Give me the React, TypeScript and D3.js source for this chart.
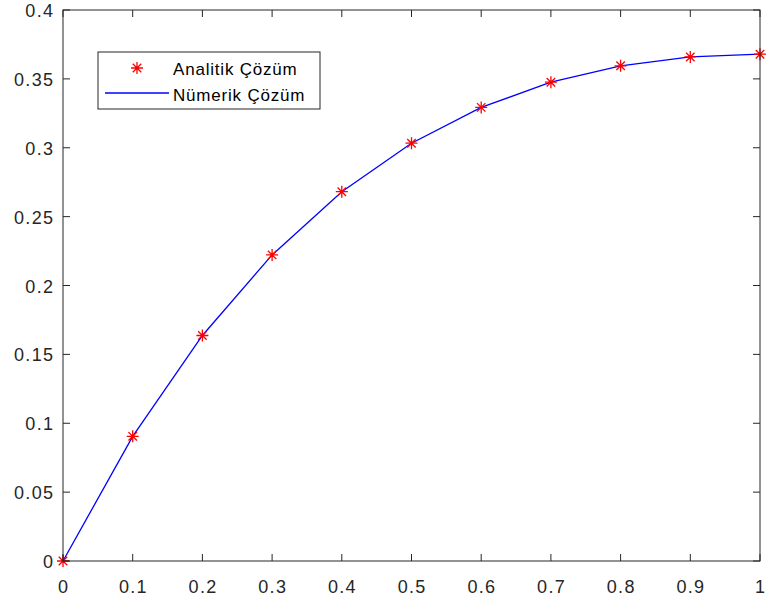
import React from "react";
import * as d3 from "d3";

const xValues = [0, 0.1, 0.2, 0.3, 0.4, 0.5, 0.6, 0.7, 0.8, 0.9, 1.0];
const analyticValues = [0, 0.0905, 0.1637, 0.2222, 0.2681, 0.3033, 0.3293, 0.3476, 0.3595, 0.3659, 0.3679];
const numericValues = [0, 0.0905, 0.1637, 0.2222, 0.2681, 0.3033, 0.3293, 0.3476, 0.3595, 0.3659, 0.3679];
const xTicks = [0, 0.1, 0.2, 0.3, 0.4, 0.5, 0.6, 0.7, 0.8, 0.9, 1];
const yTicks = [0, 0.05, 0.1, 0.15, 0.2, 0.25, 0.3, 0.35, 0.4];
const legendLabels = ["Analitik Çözüm", "Nümerik Çözüm"];

const W = 766, H = 604;
const L = 63, R = 760, T = 10, B = 561;
const axisColor = "#262626";
const font = "'Liberation Sans', Arial, sans-serif";
const ls = 1.3;

function starPath(cx: number, cy: number, r: number) {
  const d = r * 0.7071;
  return `M${cx - r},${cy}L${cx + r},${cy}M${cx},${cy - r}L${cx},${cy + r}` +
    `M${cx - d},${cy - d}L${cx + d},${cy + d}M${cx - d},${cy + d}L${cx + d},${cy - d}`;
}

export default function App() {
  const x = d3.scaleLinear().domain([0, 1]).range([L, R]);
  const y = d3.scaleLinear().domain([0, 0.4]).range([B, T]);
  const line = d3.line<number>().x((_, i) => x(xValues[i])).y((v) => y(v));
  const tl = 7;
  return (
    <svg width={W} height={H} style={{ display: "block", position: "absolute", left: 0, top: 0 }}>
      <rect width={W} height={H} fill="#fff" />
      <path d={line(numericValues) || ""} fill="none" stroke="#0000ff" strokeWidth={1.3} />
      {analyticValues.map((v, i) => (
        <path key={i} d={starPath(x(xValues[i]), y(v), 6)} stroke="#ff0000" strokeWidth={1.3} fill="none" />
      ))}
      <rect x={L} y={T} width={R - L} height={B - T} fill="none" stroke={axisColor} strokeWidth={1} />
      {xTicks.map((t) => (
        <g key={"x" + t}>
          <line x1={x(t)} x2={x(t)} y1={B} y2={B - tl} stroke={axisColor} />
          <line x1={x(t)} x2={x(t)} y1={T} y2={T + tl} stroke={axisColor} />
          <text x={x(t) + ls / 2} y={B + 32} textAnchor="middle" fontFamily={font} fontSize={18} letterSpacing={ls} fill={axisColor}>{String(t)}</text>
        </g>
      ))}
      {yTicks.map((t) => (
        <g key={"y" + t}>
          <line x1={L} x2={L + tl} y1={y(t)} y2={y(t)} stroke={axisColor} />
          <line x1={R} x2={R - tl} y1={y(t)} y2={y(t)} stroke={axisColor} />
          <text x={L - 10 + ls} y={y(t) + 7} textAnchor="end" fontFamily={font} fontSize={18} letterSpacing={ls} fill={axisColor}>{String(t)}</text>
        </g>
      ))}
      <g>
        <rect x={98} y={52} width={222} height={57} fill="#fff" stroke={axisColor} strokeWidth={1} />
        <path d={starPath(137, 68, 6)} stroke="#ff0000" strokeWidth={1.3} fill="none" />
        <text x={173} y={75} fontFamily={font} fontSize={17} letterSpacing={0.8} fill="#000">{legendLabels[0]}</text>
        <line x1={105} x2={169} y1={93} y2={93} stroke="#0000ff" strokeWidth={1.3} />
        <text x={173} y={101} fontFamily={font} fontSize={17} letterSpacing={0.8} fill="#000">{legendLabels[1]}</text>
      </g>
    </svg>
  );
}
